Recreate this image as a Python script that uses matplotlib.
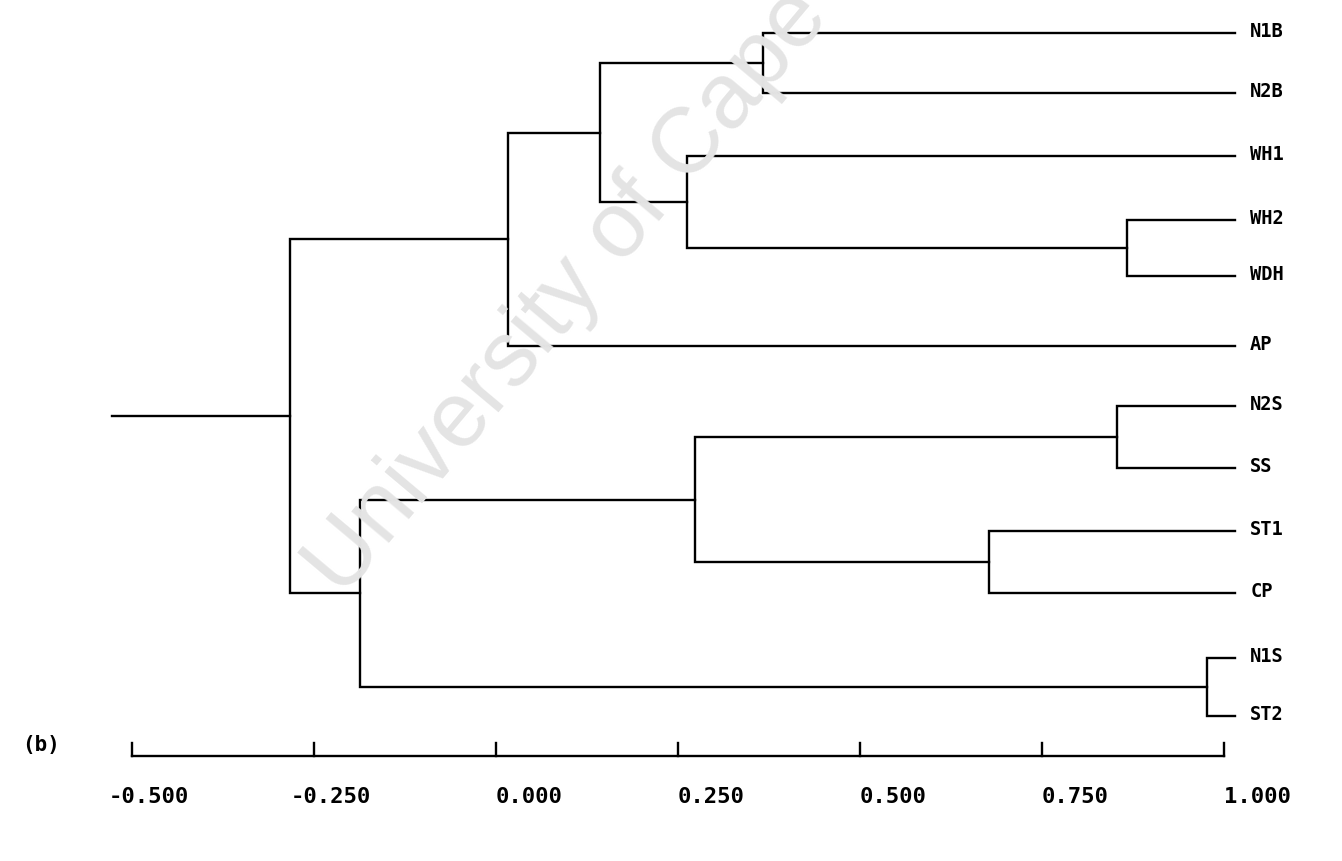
import matplotlib
matplotlib.use('Agg')
import matplotlib.pyplot as plt
import numpy as np

# leaves top to bottom and their row positions
leaves = ['N1B', 'N2B', 'WH1', 'WH2', 'WDH', 'AP', 'N2S', 'SS', 'ST1', 'CP', 'N1S', 'ST2']
leaf_rows = [0.0, 0.97, 1.98, 3.0, 3.9, 5.03, 6.0, 7.0, 8.0, 9.0, 10.05, 10.98]

# merges: (child a, child b, similarity level, new node name)
merge_a = ['N1B', 'WH2', 'WH1', 'C', 'B', 'N2S', 'ST1', 'H', 'N1S', 'G', 'A']
merge_b = ['N2B', 'WDH', 'E', 'D', 'AP', 'SS', 'CP', 'I', 'ST2', 'J', 'F']
merge_lvl = [0.367, 0.867, 0.262, 0.143, 0.016, 0.853, 0.677, 0.273, 0.977, -0.187, -0.283]
merge_node = ['C', 'E', 'D', 'B', 'A', 'H', 'I', 'G', 'J', 'F', 'root']

ticks = [-0.5, -0.25, 0.0, 0.25, 0.5, 0.75, 1.0]
tick_labels = ['-0.500', '-0.250', '0.000', '0.250', '0.500', '0.750', '1.000']

leaf_end = 1.015
root_start = -0.527

fig = plt.figure(figsize=(13.42, 8.62), dpi=100)
ax = fig.add_axes([0, 0, 1, 1])
ax.set_xlim(-0.6813, 1.1621)
ax.set_ylim(13.31, -0.547)
ax.axis('off')

# watermark of the scan
fig.text(0.255, 0.305, 'University of Cape Town', fontsize=67, color='#e4e4e4',
         rotation=50, rotation_mode='anchor', ha='left', va='baseline',
         family='Liberation Sans', zorder=0)

pos = {n: (leaf_end, r) for n, r in zip(leaves, leaf_rows)}
lw = 1.7
for a, b, h, n in zip(merge_a, merge_b, merge_lvl, merge_node):
    xa, ya = pos[a]
    xb, yb = pos[b]
    ax.plot([xa, h, h, xb], [ya, ya, yb, yb], color='black', lw=lw,
            solid_joinstyle='miter', zorder=2)
    pos[n] = (h, (ya + yb) / 2)

# stem to the left of the root
rx, ry = pos['root']
ax.plot([root_start, rx], [ry, ry], color='black', lw=lw, zorder=2)

mono = 'DejaVu Sans Mono'
for name, r in zip(leaves, leaf_rows):
    ax.text(1.036, r - 0.04, name, fontsize=13.5, fontweight='bold', family=mono,
            ha='left', va='center')

# scale bar
axis_y = 11.62
ax.plot([ticks[0], ticks[-1]], [axis_y, axis_y], color='black', lw=1.7)
for t, lbl in zip(ticks, tick_labels):
    ax.plot([t, t], [axis_y, axis_y - 0.2], color='black', lw=1.7)
    shift = -17 if lbl.startswith('-') else 0
    ax.annotate(lbl, (t, 12.27), xytext=(shift, 0), textcoords='offset points',
                fontsize=16, fontweight='bold', family=mono, ha='left', va='center')

ax.text(-0.651, 11.43, '(b)', fontsize=15, fontweight='bold', family=mono,
        ha='left', va='center')

fig.savefig('out.png', dpi=100)
